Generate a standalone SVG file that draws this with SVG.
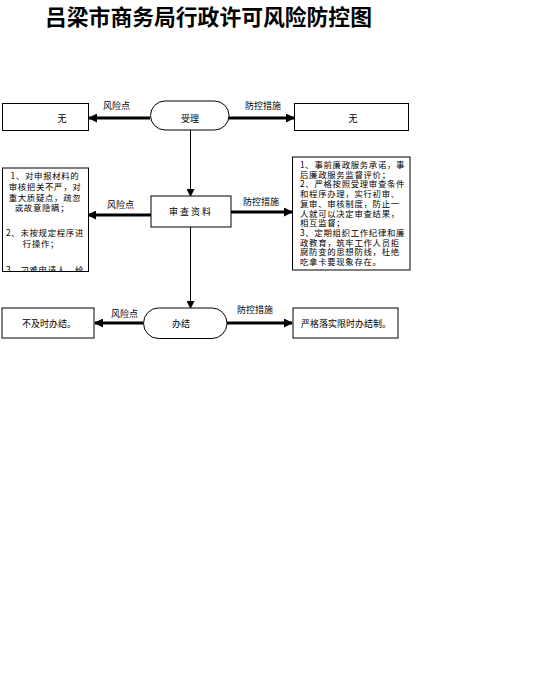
<svg xmlns="http://www.w3.org/2000/svg" width="549" height="698" viewBox="0 0 549 698">
<style>
.box{fill:#fff;stroke:#000;stroke-width:1}
.t{font-family:"Noto Sans CJK SC","Liberation Sans",sans-serif;font-size:9px;fill:#000}
.s{font-size:8.4px;letter-spacing:0.7px}
.c{text-anchor:middle}
.thick{stroke:#000;stroke-width:3;fill:none}
.thin{stroke:#000;stroke-width:1;fill:none}
</style>
<defs>
<marker id="ah" markerUnits="userSpaceOnUse" markerWidth="9" markerHeight="9" refX="8" refY="4.5" orient="auto">
<path d="M0,0 L9,4.5 L0,9 Z" fill="#000"/>
</marker>
<marker id="av" markerUnits="userSpaceOnUse" markerWidth="8" markerHeight="8" refX="7" refY="4" orient="auto">
<path d="M0,0 L8,4 L0,8 Z" fill="#000"/>
</marker>
<clipPath id="clipL"><rect x="3" y="168" width="85" height="103"/></clipPath>
</defs>
<rect width="549" height="698" fill="#fff"/>
<text x="45" y="25" style="font-family:'Noto Sans CJK SC','Liberation Serif',serif;font-size:21.8px;font-weight:bold;fill:#000">吕梁市商务局行政许可风险防控图</text>

<g id="connectors">
<line class="thick" x1="150" y1="118" x2="89" y2="118" marker-end="url(#ah)"/>
<line class="thick" x1="229" y1="118" x2="294" y2="118" marker-end="url(#ah)"/>
<line class="thin" x1="190.5" y1="130" x2="190.5" y2="196" marker-end="url(#av)"/>
<line class="thick" x1="151" y1="215" x2="88" y2="215" marker-end="url(#ah)"/>
<line class="thick" x1="231" y1="212" x2="292" y2="212" marker-end="url(#ah)"/>
<line class="thin" x1="190.5" y1="227" x2="190.5" y2="308" marker-end="url(#av)"/>
<line class="thick" x1="143" y1="323" x2="95" y2="323" marker-end="url(#ah)"/>
<line class="thick" x1="227" y1="323" x2="292" y2="323" marker-end="url(#ah)"/>
<text class="t" x="103" y="109">风险点</text>
<text class="t" x="245" y="109">防控措施</text>
<text class="t" x="107" y="208">风险点</text>
<text class="t" x="243" y="205">防控措施</text>
<text class="t" x="111" y="317">风险点</text>
<text class="t" x="237" y="313">防控措施</text>
</g>

<g id="node-accept">
<rect class="box" x="150.5" y="101" width="78.5" height="29" rx="14.5" ry="14.5"/>
<text class="t c" x="190" y="121.5">受理</text>
</g>
<g id="node-risk1">
<rect class="box" x="2.5" y="103.5" width="86" height="27"/>
<text class="t c" x="62" y="121.5">无</text>
</g>
<g id="node-ctrl1">
<rect class="box" x="294.5" y="103.5" width="114" height="27"/>
<text class="t c" x="353" y="121.5">无</text>
</g>

<g id="node-review">
<rect class="box" x="151" y="196" width="80" height="31"/>
<text class="t c" x="191" y="215" style="letter-spacing:2px">审查资料</text>
</g>
<g id="node-risk2">
<rect class="box" x="2.5" y="168" width="86" height="103.5"/>
<g clip-path="url(#clipL)">
<text class="t s c"><tspan x="45" y="179">1、对申报材料的</tspan><tspan x="45" y="190">审核把关不严，对</tspan><tspan x="45" y="200.5">重大质疑点，疏忽</tspan><tspan x="42" y="211">或故意隐瞒；</tspan><tspan x="45" y="236">2、未按规定程序进</tspan><tspan x="41" y="246.5">行操作；</tspan><tspan x="45" y="272.5">3、刁难申请人，给</tspan></text>
</g>
</g>
<g id="node-ctrl2">
<rect class="box" x="292.5" y="157" width="117.5" height="113"/>
<text class="t s"><tspan x="300" y="168">1、事前廉政服务承诺，事</tspan><tspan x="300" y="177.7">后廉政服务监督评价；</tspan><tspan x="300" y="187.4">2、严格按照受理审查条件</tspan><tspan x="300" y="197.1">和程序办理，实行初审、</tspan><tspan x="300" y="206.8">复审、审核制度，防止一</tspan><tspan x="300" y="216.5">人就可以决定审查结果，</tspan><tspan x="300" y="226.2">相互监督；</tspan><tspan x="300" y="235.9">3、定期组织工作纪律和廉</tspan><tspan x="300" y="245.6">政教育，筑牢工作人员拒</tspan><tspan x="300" y="255.3">腐防变的思想防线，杜绝</tspan><tspan x="300" y="265">吃拿卡要现象存在。</tspan></text>
</g>

<g id="node-finish">
<rect class="box" x="143.5" y="308" width="83.5" height="30.5" rx="15" ry="15.25"/>
<text class="t c" x="181" y="326.5">办结</text>
</g>
<g id="node-risk3">
<rect class="box" x="2" y="308" width="92" height="30"/>
<text class="t" x="22" y="326.5">不及时办结。</text>
</g>
<g id="node-ctrl3">
<rect class="box" x="293" y="308" width="105" height="30"/>
<text class="t" x="301" y="326.5">严格落实限时办结制。</text>
</g>
</svg>
